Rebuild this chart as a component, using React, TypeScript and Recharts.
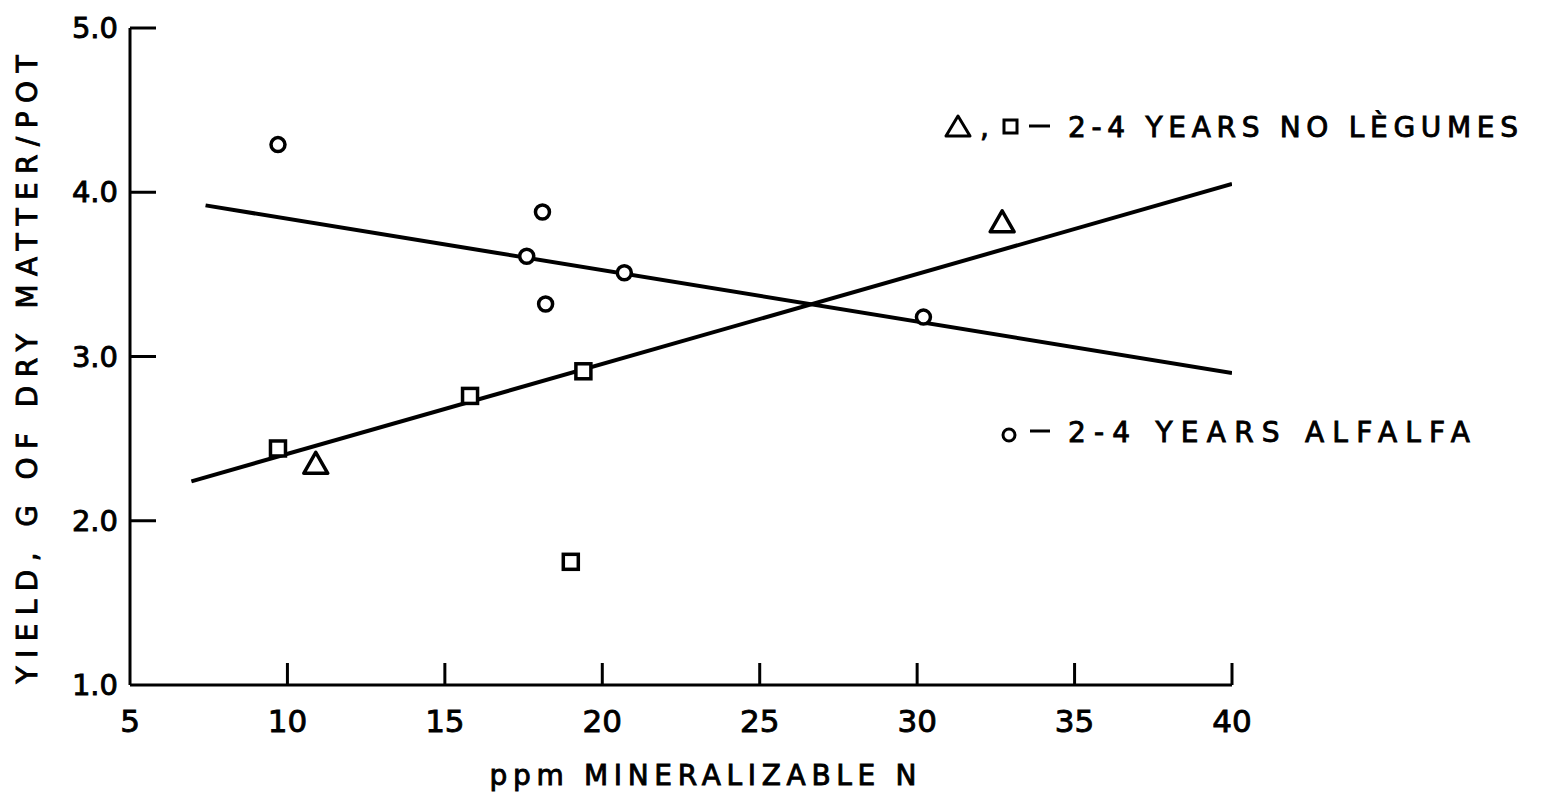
import { ComposedChart, Line, Scatter, XAxis, YAxis } from "recharts"

// ppm mineralizable N vs yield (g dry matter / pot)
const alfalfaX = [9.7, 17.6, 18.1, 18.2, 20.7, 30.2]
const alfalfaY = [4.29, 3.61, 3.88, 3.32, 3.51, 3.24]

const noLegumeSquareX = [9.7, 15.8, 19.4, 19.0]
const noLegumeSquareY = [2.44, 2.76, 2.91, 1.75]

const noLegumeTriangleX = [10.9, 32.7]
const noLegumeTriangleY = [2.35, 3.82]

// fitted regression lines (end points)
const alfalfaFitX = [7.4, 40.0]
const alfalfaFitY = [3.92, 2.9]
const noLegumeFitX = [6.95, 40.0]
const noLegumeFitY = [2.24, 4.05]

const xTicks = [5, 10, 15, 20, 25, 30, 35, 40]
const yTicks = [1, 2, 3, 4, 5]

const toPoints = (xs: number[], ys: number[]) => xs.map((x, i) => ({ x, y: ys[i] }))

const FONT = "'DejaVu Sans', 'Liberation Sans', sans-serif"
// lettering style: regular glyphs thickened a little
const letter = { fontFamily: FONT, fill: "#000", stroke: "#000", strokeWidth: 0.9 }

const CircleMark = ({ cx, cy }: any) => (
    <circle cx={cx} cy={cy} r={7} fill="#fff" stroke="#000" strokeWidth={3.5} />
)

const SquareMark = ({ cx, cy }: any) => (
    <rect x={cx - 7.5} y={cy - 7.5} width={15} height={15} fill="#fff" stroke="#000" strokeWidth={3.5} />
)

const TriangleMark = ({ cx, cy }: any) => (
    <polygon
        points={`${cx},${cy - 11} ${cx + 12},${cy + 10} ${cx - 12},${cy + 10}`}
        fill="#fff"
        stroke="#000"
        strokeWidth={3.5}
        strokeLinejoin="round"
    />
)

const XTick = ({ x, y, payload }: any) => (
    <g>
        {payload.value !== 5 && <line x1={x} y1={y} x2={x} y2={y - 22} stroke="#000" strokeWidth={3} />}
        <text {...letter} x={x} y={y + 47} textAnchor="middle" fontSize={31}>
            {payload.value}
        </text>
    </g>
)

const YTick = ({ x, y, payload }: any) => (
    <g>
        {payload.value !== 1 && <line x1={x} y1={y} x2={x + 26} y2={y} stroke="#000" strokeWidth={3} />}
        <text {...letter} x={x - 12} y={y + 10} textAnchor="end" fontSize={29}>
            {payload.value.toFixed(1)}
        </text>
    </g>
)

// legend drawn as an overlay so it does not eat into the plot area
const LegendOverlay = () => (
    <svg width={620} height={360} style={{ position: "absolute", left: 930, top: 100 }}>
        <g {...letter} fontSize={28}>
            <polygon points="28,16 40,36 16,36" fill="none" stroke="#000" strokeWidth={3} strokeLinejoin="round" />
            <text x={50} y={37}>,</text>
            <rect x={74} y={20} width={13} height={13} fill="none" stroke="#000" strokeWidth={3} />
            <line x1={99} y1={26} x2={120} y2={26} stroke="#000" strokeWidth={3} />
            <text x={138} y={37} textLength={450} lengthAdjust="spacing">2-4 YEARS NO LÈGUMES</text>

            <circle cx={79} cy={335} r={6} fill="none" stroke="#000" strokeWidth={3} />
            <line x1={100} y1={331} x2={120} y2={331} stroke="#000" strokeWidth={3} />
            <text x={138} y={342} textLength={402} lengthAdjust="spacing">2-4 YEARS ALFALFA</text>
        </g>
    </svg>
)

const App = () => {
    const alfalfa = toPoints(alfalfaX, alfalfaY)
    const squares = toPoints(noLegumeSquareX, noLegumeSquareY)
    const triangles = toPoints(noLegumeTriangleX, noLegumeTriangleY)
    const alfalfaFit = toPoints(alfalfaFitX, alfalfaFitY)
    const noLegumeFit = toPoints(noLegumeFitX, noLegumeFitY)

    return (
        <div style={{ position: "absolute", left: 0, top: 0, width: 1554, height: 800, background: "#fff" }}>
            <ComposedChart width={1554} height={800} margin={{ top: 28, right: 322, bottom: 0, left: 0 }}>
                <XAxis
                    dataKey="x"
                    type="number"
                    domain={[5, 40]}
                    ticks={xTicks}
                    allowDataOverflow
                    height={115}
                    tickSize={0}
                    tickMargin={0}
                    tick={<XTick />}
                    tickLine={false}
                    axisLine={{ stroke: "#000", strokeWidth: 3 }}
                    label={({ viewBox }: any) => (
                        <text
                            {...letter}
                            x={viewBox.x + viewBox.width / 2 + 22}
                            y={viewBox.y + 100}
                            textAnchor="middle"
                            fontSize={28}
                            textLength={427}
                            lengthAdjust="spacing"
                        >
                            ppm MINERALIZABLE N
                        </text>
                    )}
                />
                <YAxis
                    dataKey="y"
                    type="number"
                    domain={[1, 5]}
                    ticks={yTicks}
                    allowDataOverflow
                    width={130}
                    tickSize={0}
                    tickMargin={0}
                    tick={<YTick />}
                    tickLine={false}
                    axisLine={{ stroke: "#000", strokeWidth: 3 }}
                    label={({ viewBox }: any) => (
                        <text
                            {...letter}
                            x={37}
                            y={viewBox.y + viewBox.height / 2 + 13}
                            transform={`rotate(-90, 37, ${viewBox.y + viewBox.height / 2 + 13})`}
                            textAnchor="middle"
                            fontSize={28}
                            textLength={628}
                            lengthAdjust="spacing"
                        >
                            YIELD, G OF DRY MATTER/POT
                        </text>
                    )}
                />
                <Line data={alfalfaFit} dataKey="y" type="linear" stroke="#000" strokeWidth={4} dot={false} isAnimationActive={false} />
                <Line data={noLegumeFit} dataKey="y" type="linear" stroke="#000" strokeWidth={4} dot={false} isAnimationActive={false} />
                <Scatter data={alfalfa} dataKey="y" shape={<CircleMark />} isAnimationActive={false} />
                <Scatter data={squares} dataKey="y" shape={<SquareMark />} isAnimationActive={false} />
                <Scatter data={triangles} dataKey="y" shape={<TriangleMark />} isAnimationActive={false} />
            </ComposedChart>
            <LegendOverlay />
        </div>
    )
}

export default App
